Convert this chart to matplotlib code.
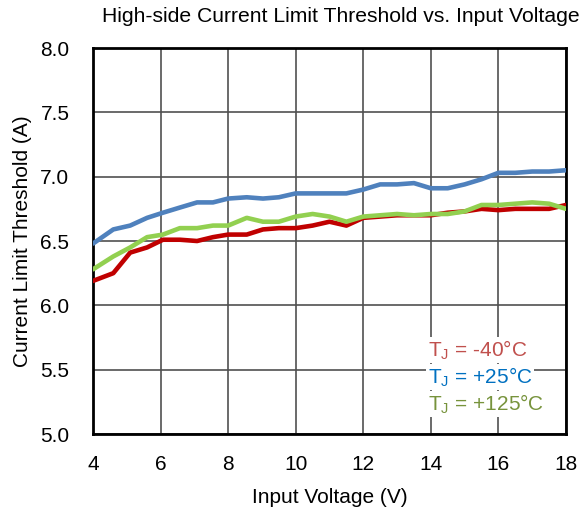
import matplotlib.pyplot as plt
import numpy as np

plt.rcParams['font.family'] = ['Liberation Sans', 'DejaVu Sans']

vin = [4.0, 4.6, 5.1, 5.6, 6.07, 6.57, 7.08, 7.55, 8.0, 8.55, 9.03, 9.5, 10.0, 10.5,
       11.0, 11.5, 12.0, 12.5, 13.0, 13.5, 14.0, 14.5, 15.0, 15.5, 16.0, 16.5, 17.0, 17.5, 18.0]

ilim_m40 = [6.19, 6.25, 6.41, 6.45, 6.51, 6.51, 6.50, 6.53, 6.55, 6.55, 6.59, 6.60, 6.60, 6.62,
            6.65, 6.62, 6.68, 6.69, 6.70, 6.70, 6.70, 6.72, 6.73, 6.75, 6.74, 6.75, 6.75, 6.75, 6.78]
ilim_25 = [6.48, 6.59, 6.62, 6.68, 6.72, 6.76, 6.80, 6.80, 6.83, 6.84, 6.83, 6.84, 6.87, 6.87,
           6.87, 6.87, 6.90, 6.94, 6.94, 6.95, 6.91, 6.91, 6.94, 6.98, 7.03, 7.03, 7.04, 7.04, 7.05]
ilim_125 = [6.28, 6.38, 6.45, 6.53, 6.55, 6.60, 6.60, 6.62, 6.62, 6.68, 6.65, 6.65, 6.69, 6.71,
            6.69, 6.65, 6.69, 6.70, 6.71, 6.70, 6.71, 6.71, 6.73, 6.78, 6.78, 6.79, 6.80, 6.79, 6.75]

fig = plt.figure(figsize=(5.85, 5.14), dpi=100)
ax = fig.add_axes([0.159, 0.1556, 0.8085, 0.751])

kw = dict(lw=3.3, solid_capstyle='round', solid_joinstyle='round', zorder=3)
ax.plot(vin, ilim_m40, color='#C00000', **kw)
ax.plot(vin, ilim_25, color='#4F81BD', **kw)
ax.plot(vin, ilim_125, color='#92D050', **kw)

ax.set_xlim(4, 18)
ax.set_ylim(5.0, 8.0)
ax.set_xticks(np.arange(4, 19, 2))
ax.set_yticks(np.arange(5.0, 8.01, 0.5))
ax.set_yticklabels([f'{v:.1f}' for v in np.arange(5.0, 8.01, 0.5)])
ax.grid(True, color='#505050', lw=1.2)
for s in ax.spines.values():
    s.set_linewidth(2)
    s.set_color('black')
ax.tick_params(axis='y', labelsize=15, length=0, pad=17)
ax.tick_params(axis='x', labelsize=15, length=0, pad=15)

ax.set_xlabel('Input Voltage (V)', fontsize=15, labelpad=10)
ax.set_ylabel('Current Limit Threshold (A)', fontsize=15, labelpad=6)
fig.text(0.582, 0.967, 'High-side Current Limit Threshold vs. Input Voltage',
         ha='center', va='center', fontsize=15.2)

box = dict(facecolor='white', edgecolor='none', pad=1)
ax.text(0.708, 0.218, r'$\mathregular{T_J}$ = -40°C', transform=ax.transAxes,
        color='#C0504D', fontsize=15, va='center', bbox=box, zorder=4)
ax.text(0.708, 0.148, r'$\mathregular{T_J}$ = +25°C', transform=ax.transAxes,
        color='#0070C0', fontsize=15, va='center', bbox=box, zorder=4)
ax.text(0.708, 0.078, r'$\mathregular{T_J}$ = +125°C', transform=ax.transAxes,
        color='#77933C', fontsize=15, va='center', bbox=box, zorder=4)

plt.savefig('out.png', dpi=100)
